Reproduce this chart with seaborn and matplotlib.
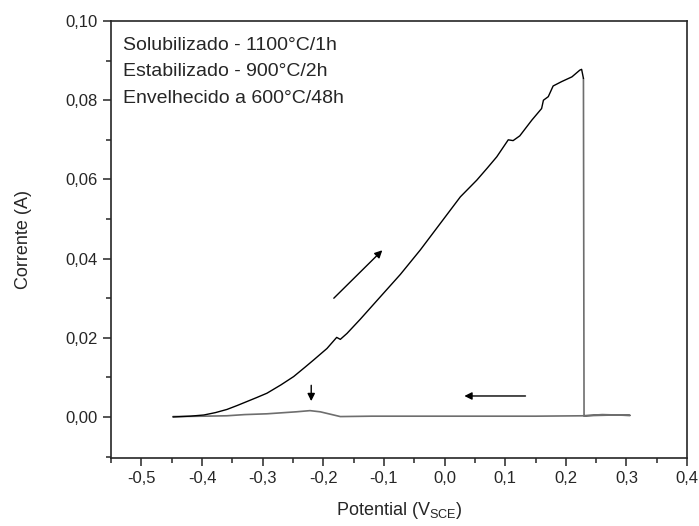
import numpy as np
import pandas as pd
import matplotlib
matplotlib.use("Agg")
import matplotlib.pyplot as plt
from matplotlib.ticker import FuncFormatter, MultipleLocator
import seaborn as sns

# varredura direta (subida)
pot_ida = [-0.448, -0.420, -0.397, -0.378, -0.359, -0.342, -0.326, -0.310, -0.293, -0.270,
           -0.249, -0.230, -0.216, -0.194, -0.178, -0.172, -0.161, -0.139, -0.111, -0.073,
           -0.040, -0.007, 0.026, 0.053, 0.070, 0.086, 0.105, 0.113, 0.124, 0.144, 0.160,
           0.163, 0.171, 0.179, 0.193, 0.210, 0.223, 0.226, 0.229]
cor_ida = [0.0000, 0.0002, 0.0005, 0.0011, 0.0019, 0.0029, 0.0039, 0.0049, 0.0060, 0.0081,
           0.0102, 0.0126, 0.0144, 0.0173, 0.0201, 0.0196, 0.0211, 0.0247, 0.0295, 0.0360,
           0.0422, 0.0489, 0.0556, 0.0598, 0.0628, 0.0657, 0.0700, 0.0698, 0.0710, 0.0750,
           0.0779, 0.0800, 0.0809, 0.0836, 0.0847, 0.0859, 0.0876, 0.0878, 0.0855]

# queda e varredura reversa
pot_volta = [0.229, 0.230, 0.260, 0.306, 0.280, 0.230, 0.150, 0.050, -0.050, -0.120,
             -0.172, -0.183, -0.205, -0.222, -0.245, -0.293, -0.330, -0.359, -0.397, -0.448]
cor_volta = [0.0855, 0.0003, 0.0006, 0.0004, 0.0005, 0.0003, 0.0002, 0.0002, 0.0002, 0.0002,
             0.0001, 0.0005, 0.0013, 0.0016, 0.0013, 0.0008, 0.0006, 0.0003, 0.0002, 0.0001]

legenda = ["Solubilizado - 1100°C/1h", "Estabilizado - 900°C/2h", "Envelhecido a 600°C/48h"]

sns.set_style("ticks")
plt.rcParams["font.family"] = ["Liberation Sans", "DejaVu Sans"]
plt.rcParams["mathtext.default"] = "regular"

fig = plt.figure(figsize=(6.99, 5.26), dpi=100)
ax = fig.add_axes([0.159, 0.129, 0.824, 0.831])

df_ida = pd.DataFrame({"pot": pot_ida, "cor": cor_ida})
df_volta = pd.DataFrame({"pot": pot_volta, "cor": cor_volta})
sns.lineplot(data=df_volta, x="pot", y="cor", sort=False, estimator=None,
             color="#6e6e6e", lw=1.2, ax=ax)
sns.lineplot(data=df_ida, x="pot", y="cor", sort=False, estimator=None,
             color="black", lw=1.0, ax=ax)

seta = dict(arrowstyle="-|>", color="black", lw=1.0, mutation_scale=11)
ax.annotate("", xy=(-0.0995, 0.0426), xytext=(-0.186, 0.0295), arrowprops=seta)
ax.annotate("", xy=(0.028, 0.0053), xytext=(0.138, 0.0053), arrowprops=seta)
ax.annotate("", xy=(-0.220, 0.0033), xytext=(-0.220, 0.0087), arrowprops=seta)

for i, txt in enumerate(legenda):
    ax.text(0.021, 0.945 - i * 0.061, txt, transform=ax.transAxes,
            fontsize=14, va="center", ha="left")

ax.set_xlim(-0.55, 0.4)
ax.set_ylim(-0.0104, 0.10)
ax.xaxis.set_major_locator(MultipleLocator(0.1))
ax.xaxis.set_minor_locator(MultipleLocator(0.05))
ax.yaxis.set_major_locator(MultipleLocator(0.02))
ax.yaxis.set_minor_locator(MultipleLocator(0.01))
ax.xaxis.set_major_formatter(FuncFormatter(lambda v, p: ("%.1f" % v).replace(".", ",").replace("-0,0", "0,0")))
ax.yaxis.set_major_formatter(FuncFormatter(lambda v, p: ("%.2f" % v).replace(".", ",").replace("-0,00", "0,00")))
ax.tick_params(axis="both", which="major", length=6, width=1.1, labelsize=12, direction="out")
ax.tick_params(axis="both", which="minor", length=3.5, width=1.1, direction="out")
for s in ax.spines.values():
    s.set_linewidth(1.2)
    s.set_visible(True)

ax.set_xlabel("Potential (V$_{SCE}$)", fontsize=13, labelpad=10)
ax.set_ylabel("Corrente (A)", fontsize=13, labelpad=24)

fig.savefig("out.png", dpi=100, facecolor="white")
